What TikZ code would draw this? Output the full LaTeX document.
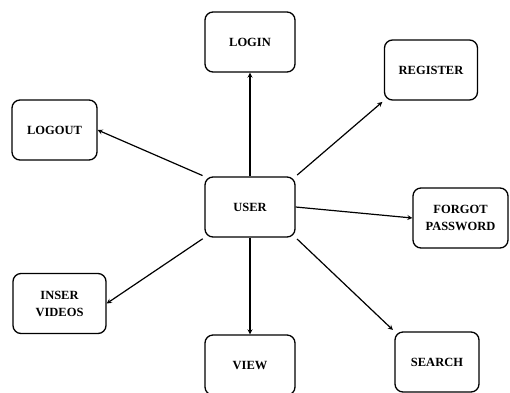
\documentclass[tikz,border=0pt]{standalone}
\usepackage{fontspec}
\setmainfont{Liberation Serif}
\usepackage{tikz}
\usetikzlibrary{shapes.geometric, arrows}
\tikzstyle{block} = [rectangle, rounded corners=8pt, minimum width=90pt, minimum height=60pt, text centered, align=center, draw=black, line width=1.3pt, fill=white, font=\fontsize{12.5}{17}\selectfont\bfseries]
\tikzstyle{arrow} = [line width=1.2pt,->,>=stealth]

\begin{document}
\begin{tikzpicture}[x=1pt, y=1pt, node distance=160pt]
	\useasboundingbox (-250,-185) rectangle (260,207);
	\node (user) [block] {USER};
	\node (login) [block, above of=user, yshift=5pt] {LOGIN};
	\node (register) [block, right of=user, xshift=21pt, yshift=137pt, minimum width=93pt] {REGISTER};
	\node (logout) [block, left of=user, xshift=-35.5pt, yshift=77pt, minimum width=85pt] {LOGOUT};
	\node (forgot) [block, right of=user, xshift=50.5pt, yshift=-11pt, minimum width=95pt] {FORGOT\\PASSWORD};
	\node (inser) [block, left of=user, xshift=-30.5pt, yshift=-96.5pt, minimum width=93pt] {INSER\\VIDEOS};
	\node (view) [block, below of=user, yshift=2pt] {VIEW};
	\node (search) [block, right of=user, xshift=27pt, yshift=-155pt, minimum width=84pt] {SEARCH};

	\draw [arrow] (user) -- (login);
	\draw [arrow, shorten <=2pt, shorten >=2pt] (user.north east) -- (register.south west);
	\draw [arrow, shorten <=2pt] (user.north west) -- (logout.east);
	\draw [arrow] (user.east) -- (forgot.west);
	\draw [arrow, shorten <=2pt] (user.south west) -- (inser.east);
	\draw [arrow] (user) -- (view);
	\draw [arrow, shorten <=2pt, shorten >=2pt] (user.south east) -- (search.north west);
\end{tikzpicture}
\end{document}
